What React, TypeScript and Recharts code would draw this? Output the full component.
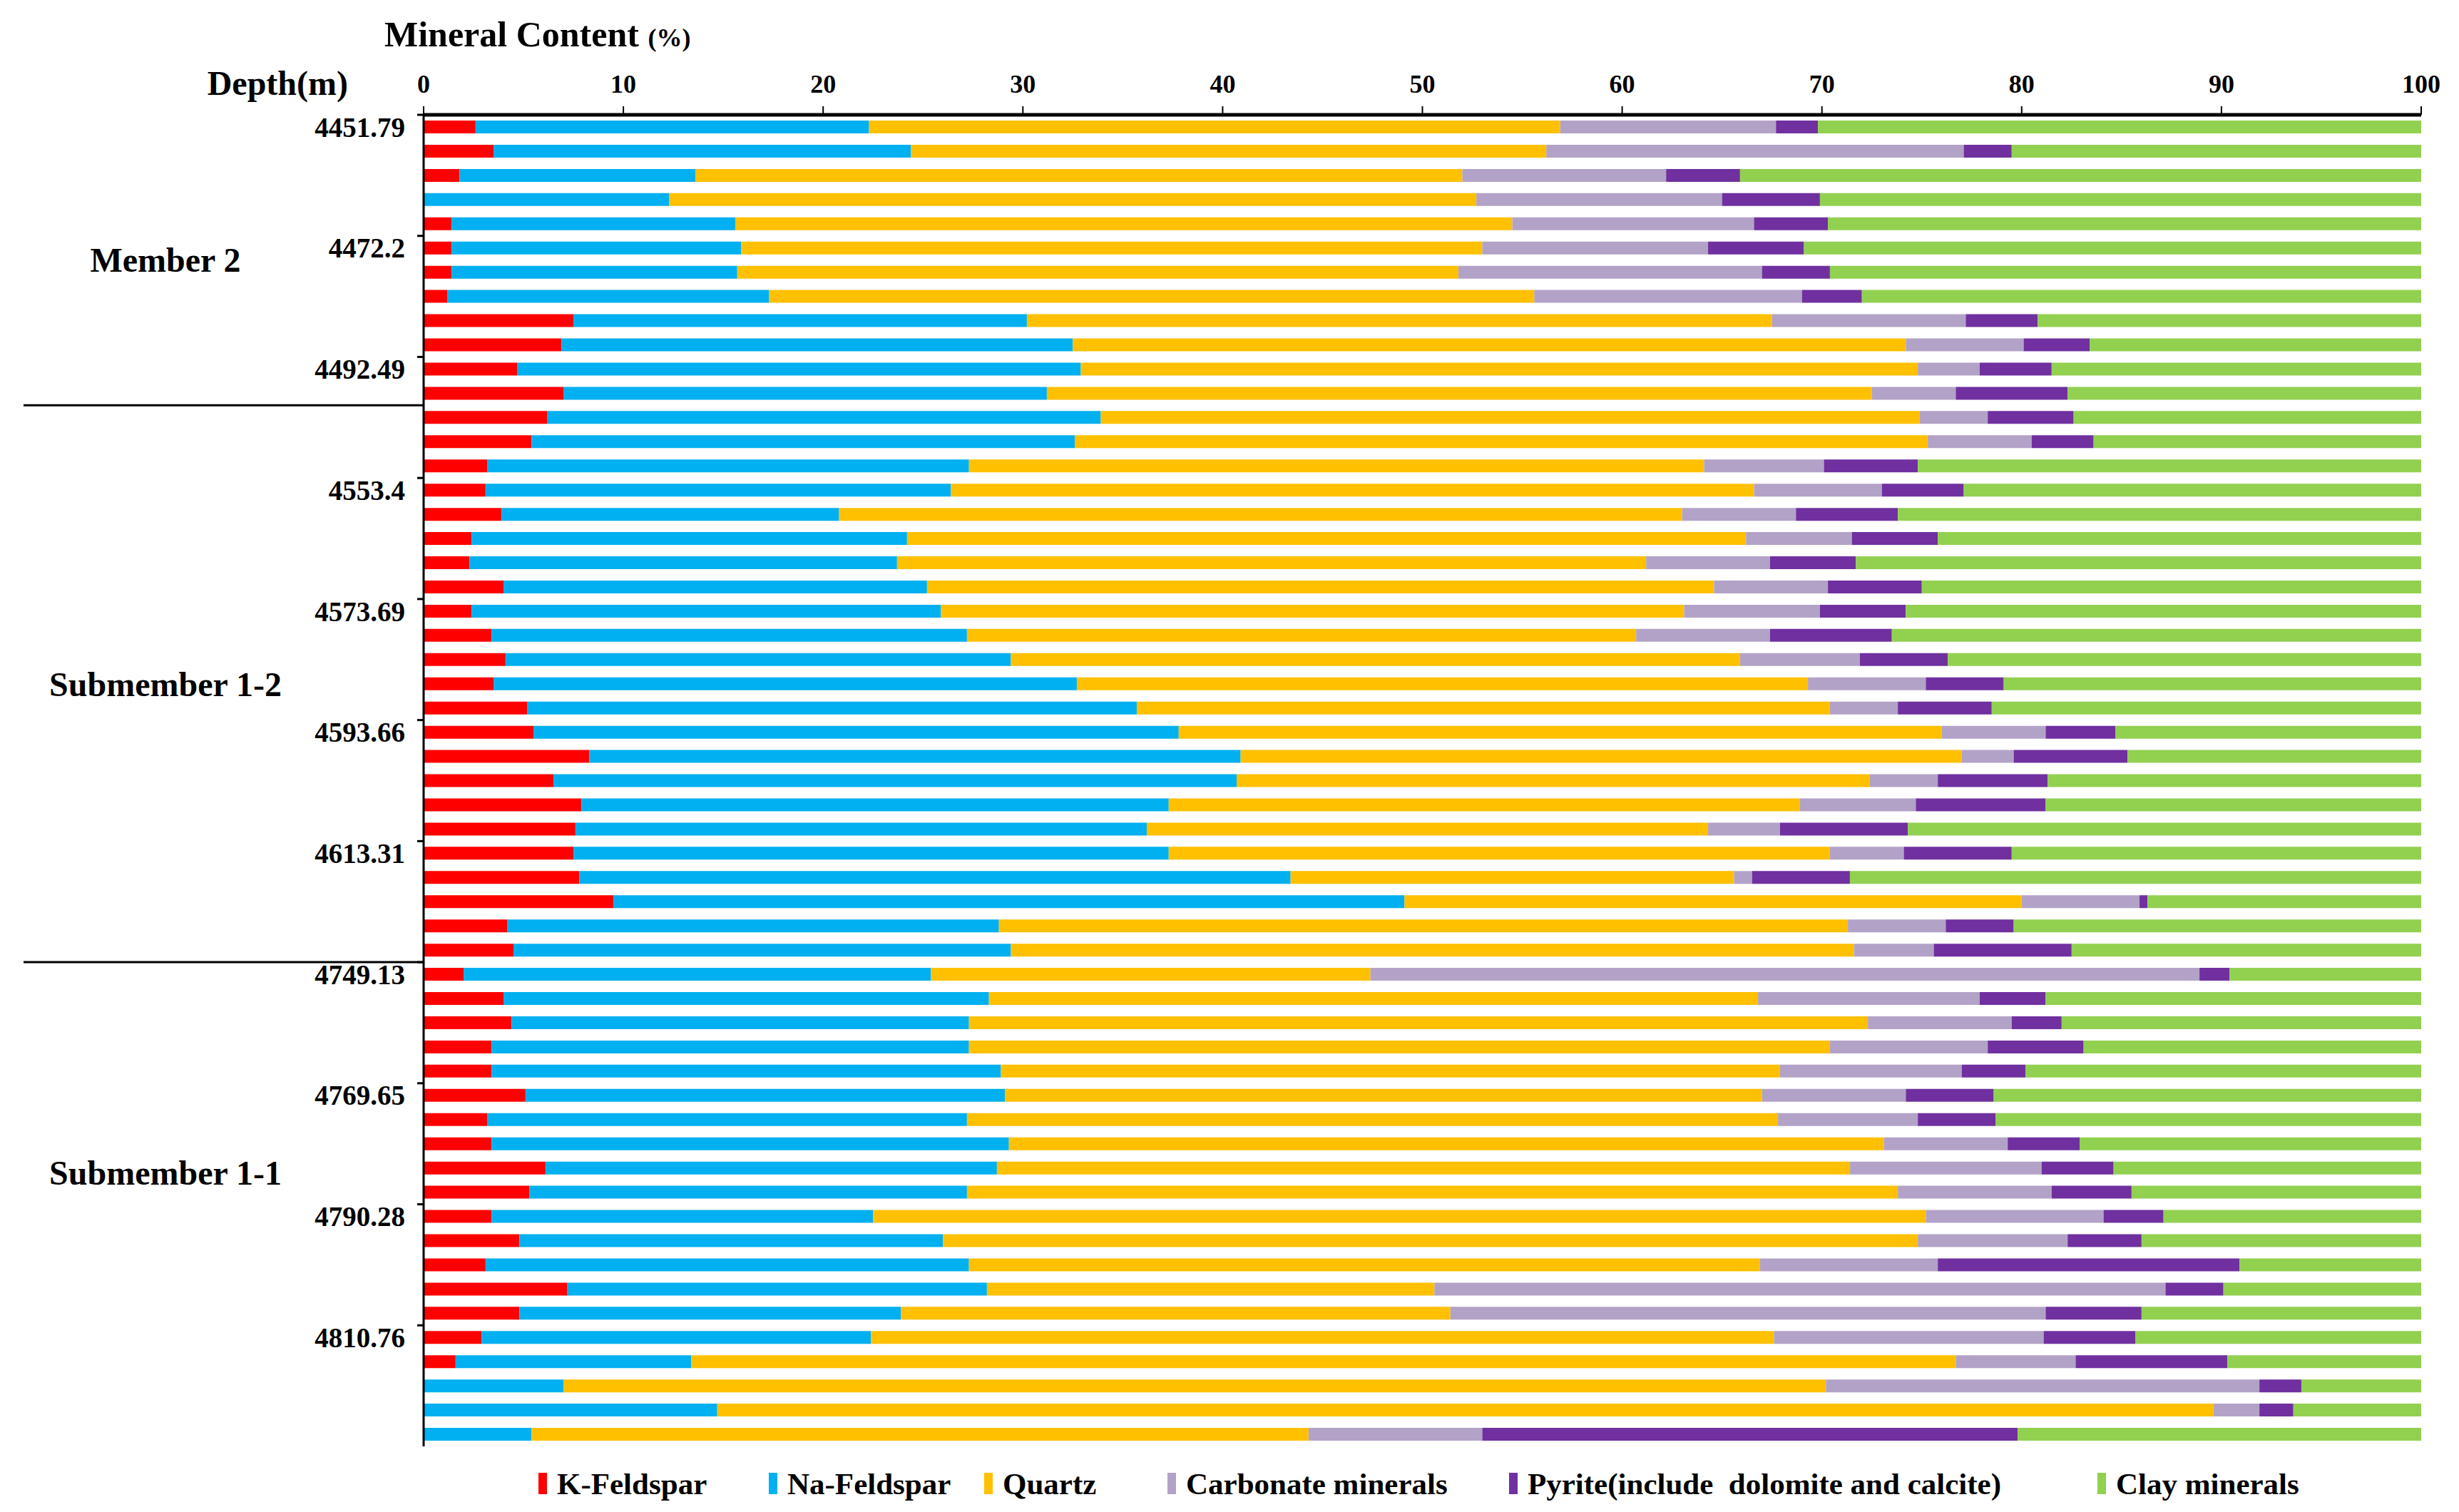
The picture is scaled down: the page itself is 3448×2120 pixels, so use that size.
import { Bar, BarChart, Legend, XAxis, YAxis } from "recharts";

// depth label shown beside every fifth sample, top to bottom
const DEPTH_LABELS = [
  "4451.79", "", "", "", "", "4472.2", "", "", "", "", "4492.49", "", "", "", "",
  "4553.4", "", "", "", "", "4573.69", "", "", "", "", "4593.66", "", "", "", "",
  "4613.31", "", "", "", "", "4749.13", "", "", "", "", "4769.65", "", "", "", "",
  "4790.28", "", "", "", "", "4810.76", "", "", "", "",
];

const K_FELDSPAR = [
  2.6, 3.5, 1.8, 0, 1.4, 1.4, 1.4, 1.2, 7.5, 6.9, 4.7, 7.0, 6.2, 5.4, 3.2, 3.1, 3.9, 2.4, 2.3, 4.0,
  2.4, 3.4, 4.1, 3.5, 5.2, 5.5, 8.3, 6.5, 7.9, 7.6, 7.5, 7.8, 9.5, 4.2, 4.5, 2.0, 4.0, 4.4, 3.4, 3.4,
  5.1, 3.2, 3.4, 6.1, 5.3, 3.4, 4.8, 3.1, 7.2, 4.8, 2.9, 1.6, 0, 0, 0,
];
const NA_FELDSPAR = [
  19.7, 20.9, 11.8, 12.3, 14.2, 14.5, 14.3, 16.1, 22.7, 25.6, 28.2, 24.2, 27.7, 27.2, 24.1, 23.3, 16.9, 21.8, 21.4, 21.2,
  23.5, 23.8, 25.3, 29.2, 30.5, 32.3, 32.6, 34.2, 29.4, 28.6, 29.8, 35.6, 39.6, 24.6, 24.9, 23.4, 24.3, 22.9, 23.9, 25.5,
  24.0, 24.0, 25.9, 22.6, 21.9, 19.1, 21.2, 24.2, 21.0, 19.1, 19.5, 11.8, 7.0, 14.7, 5.4,
];
const QUARTZ = [
  34.6, 31.8, 38.4, 40.4, 38.9, 37.1, 36.1, 38.3, 37.3, 41.7, 41.9, 41.3, 41.0, 42.7, 36.8, 40.2, 42.2, 42.0, 37.5, 39.4,
  37.2, 33.5, 36.5, 36.6, 34.7, 38.2, 36.1, 31.7, 31.6, 28.1, 33.1, 22.2, 30.9, 42.5, 42.2, 22.0, 38.5, 45.0, 43.1, 39.0,
  37.9, 40.6, 43.8, 42.7, 46.6, 52.7, 48.8, 39.6, 22.4, 27.5, 45.2, 63.3, 63.2, 74.9, 38.9,
];
const CARBONATE = [
  10.8, 20.9, 10.2, 12.3, 12.1, 11.3, 15.2, 13.4, 9.7, 5.9, 3.1, 4.2, 3.4, 5.2, 6.0, 6.4, 5.7, 5.3, 6.2, 5.7,
  6.8, 6.7, 6.0, 5.9, 3.4, 5.2, 2.6, 3.4, 5.8, 3.6, 3.7, 0.9, 5.9, 4.9, 4.0, 41.5, 11.1, 7.2, 7.9, 9.1,
  7.2, 7.0, 6.2, 9.6, 7.7, 8.9, 7.5, 8.9, 36.6, 29.8, 13.5, 6.0, 21.7, 2.3, 8.7,
];
const PYRITE = [
  2.1, 2.4, 3.7, 4.9, 3.7, 4.8, 3.4, 3.0, 3.6, 3.3, 3.6, 5.6, 4.3, 3.1, 4.7, 4.1, 5.1, 4.3, 4.3, 4.7,
  4.3, 6.1, 4.4, 3.9, 4.7, 3.5, 5.7, 5.5, 6.5, 6.4, 5.4, 4.9, 0.4, 3.4, 6.9, 1.5, 3.3, 2.5, 4.8, 3.2,
  4.4, 3.9, 3.6, 3.6, 4.0, 3.0, 3.7, 15.1, 2.9, 4.8, 4.6, 7.6, 2.1, 1.7, 26.8,
];
const CLAY = [
  30.2, 20.5, 34.1, 30.1, 29.7, 30.9, 29.6, 28.0, 19.2, 16.6, 18.5, 17.7, 17.4, 16.4, 25.2, 22.9, 26.2, 24.2, 28.3, 25.0,
  25.8, 26.5, 23.7, 20.9, 21.5, 15.3, 14.7, 18.7, 18.8, 25.7, 20.5, 28.6, 13.7, 20.4, 17.5, 9.6, 18.8, 18.0, 16.9, 19.8,
  21.4, 21.3, 17.1, 15.4, 14.5, 12.9, 14.0, 9.1, 9.9, 14.0, 14.3, 9.7, 6.0, 6.4, 20.2,
];

const X_TICKS = [0, 10, 20, 30, 40, 50, 60, 70, 80, 90, 100];

// stratigraphic units: first/last sample (1-based) and where the name sits
const UNITS = [
  { name: "Member 2", first: 1, last: 12, labelAt: 6.5 },
  { name: "Submember 1-2", first: 13, last: 35, labelAt: 24 },
  { name: "Submember 1-1", first: 36, last: 55, labelAt: 44.2 },
];

const SERIES = [
  { key: "kf", name: "K-Feldspar", color: "#FF0000", values: K_FELDSPAR },
  { key: "naf", name: "Na-Feldspar", color: "#00B0F0", values: NA_FELDSPAR },
  { key: "qz", name: "Quartz", color: "#FFC000", values: QUARTZ },
  { key: "carb", name: "Carbonate minerals", color: "#B3A2C7", values: CARBONATE },
  { key: "py", name: "Pyrite(include  dolomite and calcite)", color: "#7030A0", values: PYRITE },
  { key: "clay", name: "Clay minerals", color: "#92D050", values: CLAY },
];

const data = DEPTH_LABELS.map((_, i) => {
  const row: Record<string, string | number> = { id: `s${i + 1}` };
  SERIES.forEach((s) => (row[s.key] = s.values[i]));
  return row;
});

const FONT = '"Liberation Serif", "Times New Roman", serif';
const W = 3448;
const H = 2120;
const TOP = 161;
const LEGEND_H = 92;
const AXIS_X = 594;
const LEGEND_WIDTHS = [323, 302, 257, 479, 825, 400];

function DepthTick(props: any) {
  const { x, y, payload, index } = props;
  const half = payload?.offset || (H - TOP - LEGEND_H) / DEPTH_LABELS.length / 2;
  const label = DEPTH_LABELS[index];
  const unit = UNITS.find((u) => u.first === index + 1);
  return (
    <g>
      {label && (
        <>
          <line x1={AXIS_X - 9} x2={AXIS_X} y1={y - half} y2={y - half} stroke="#000" strokeWidth={3} />
          <text x={x} y={y} dy="0.35em" textAnchor="end" fontFamily={FONT} fontWeight={700} fontSize={39} fill="#000">
            {label}
          </text>
        </>
      )}
      {unit && unit.first > 1 && (
        <line x1={33} x2={AXIS_X} y1={y - half} y2={y - half} stroke="#000" strokeWidth={3} />
      )}
      {unit && (
        <text
          x={232}
          y={y + (unit.labelAt - unit.first) * 2 * half}
          dy="0.35em"
          textAnchor="middle"
          fontFamily={FONT}
          fontWeight={700}
          fontSize={48}
          fill="#000"
        >
          {unit.name}
        </text>
      )}
    </g>
  );
}

function LegendContent() {
  return (
    <div style={{ display: "flex", alignItems: "center", height: LEGEND_H, paddingLeft: 755, boxSizing: "border-box", paddingTop: 12 }}>
      {SERIES.map((s, i) => (
        <div key={s.key} style={{ display: "flex", alignItems: "center", width: LEGEND_WIDTHS[i], flex: "none" }}>
          <span style={{ display: "inline-block", width: 12, height: 30, background: s.color }} />
          <span style={{ marginLeft: 14, fontFamily: FONT, fontWeight: 700, fontSize: 43, color: "#000", whiteSpace: "pre" }}>
            {s.name}
          </span>
        </div>
      ))}
    </div>
  );
}

export default function App() {
  return (
    <div style={{ position: "absolute", left: 0, top: 0, width: W, height: H, background: "#fff" }}>
      <div style={{ position: "absolute", left: 539, top: 18, fontFamily: FONT, fontWeight: 700, fontSize: 50, lineHeight: "60px", whiteSpace: "nowrap" }}>
        Mineral Content <span style={{ fontSize: 36 }}>(%)</span>
      </div>
      <div style={{ position: "absolute", left: 262, top: 88, width: 226, textAlign: "right", fontFamily: FONT, fontWeight: 700, fontSize: 48, lineHeight: "58px", whiteSpace: "nowrap" }}>
        Depth(m)
      </div>
      <BarChart width={W} height={H} data={data} layout="vertical" margin={{ top: 0, right: 53, bottom: 0, left: 0 }}>
        <XAxis
          type="number"
          orientation="top"
          domain={[0, 100]}
          ticks={X_TICKS}
          height={TOP}
          axisLine={{ stroke: "#000", strokeWidth: 5 }}
          tickLine={{ stroke: "#000", strokeWidth: 2 }}
          tickSize={12}
          tickMargin={19}
          tick={{ fontFamily: FONT, fontWeight: 700, fontSize: 36, fill: "#000" }}
          allowDataOverflow
        />
        <YAxis
          type="category"
          dataKey="id"
          width={AXIS_X}
          interval={0}
          axisLine={{ stroke: "#000", strokeWidth: 3 }}
          tickLine={false}
          tickSize={0}
          tickMargin={26}
          tick={<DepthTick />}
        />
        {SERIES.map((s) => (
          <Bar key={s.key} dataKey={s.key} name={s.name} stackId="m" fill={s.color} barSize={18} isAnimationActive={false} />
        ))}
        <Legend verticalAlign="bottom" content={<LegendContent />} wrapperStyle={{ left: 0, bottom: 0, width: W, height: LEGEND_H }} />
      </BarChart>
    </div>
  );
}
